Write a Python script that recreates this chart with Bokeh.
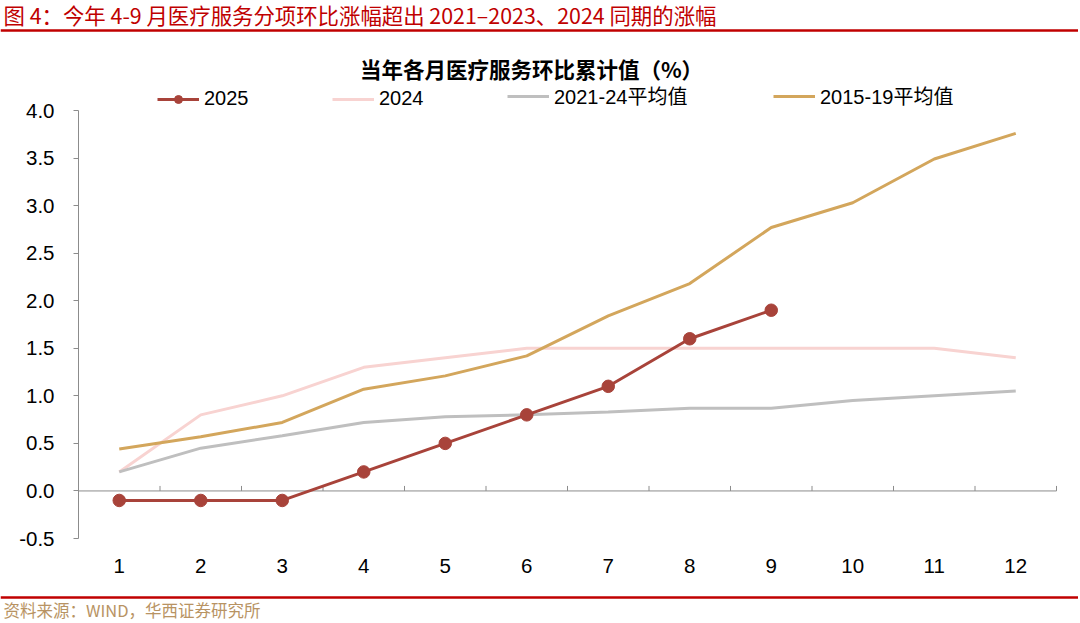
from bokeh.plotting import figure
from bokeh.models import (Label, Legend, LegendItem, FixedTicker, NumeralTickFormatter,
                          Range1d, LinearAxis, BoxAnnotation)
from bokeh.embed import file_html
from bokeh.resources import INLINE

# ---------------- data ----------------
months = [1, 2, 3, 4, 5, 6, 7, 8, 9, 10, 11, 12]
month_labels = ["1", "2", "3", "4", "5", "6", "7", "8", "9", "10", "11", "12"]
months_2025 = [1, 2, 3, 4, 5, 6, 7, 8, 9]
s2025 = [-0.1, -0.1, -0.1, 0.2, 0.5, 0.8, 1.1, 1.6, 1.9]
s2024 = [0.2, 0.8, 1.0, 1.3, 1.4, 1.5, 1.5, 1.5, 1.5, 1.5, 1.5, 1.4]
s2124 = [0.2, 0.45, 0.58, 0.72, 0.78, 0.8, 0.83, 0.87, 0.87, 0.95, 1.0, 1.05]
s1519 = [0.44, 0.57, 0.72, 1.07, 1.21, 1.42, 1.84, 2.18, 2.77, 3.03, 3.49, 3.76]
y_ticks = [-0.5, 0.0, 0.5, 1.0, 1.5, 2.0, 2.5, 3.0, 3.5, 4.0]
series_names = ["2025", "2024", "2021-24平均值", "2015-19平均值"]

header = "图 4：今年 4-9 月医疗服务分项环比涨幅超出 2021–2023、2024 同期的涨幅"
chart_title = "当年各月医疗服务环比累计值（%）"
source = "资料来源：WIND，华西证券研究所"

# ---------------- style ----------------
C2025 = "#A8433A"
C2024 = "#F8D3D1"
C2124 = "#BFBFBF"
C1519 = "#D3A65C"
RED = "#C00000"
GOLD_TXT = "#B89363"
AXIS = "#8C8C8C"
LATIN = "Liberation Sans, Noto Sans CJK SC"
CJK = "Noto Sans CJK SC"

W, H = 1078, 621
# where the plot area sits on the canvas (pixels from top-left)
PL, PR, PT, PB = 78, 1056, 110, 538

x_lo, x_hi = months[0] - 0.5, months[-1] + 0.5
y_lo, y_hi = y_ticks[0], y_ticks[-1]
xpp = (x_hi - x_lo) / (PR - PL)
ypp = (y_hi - y_lo) / (PB - PT)

p = figure(width=W, height=H, output_backend="svg", toolbar_location=None,
           x_range=Range1d(x_lo - PL * xpp, x_hi + (W - PR) * xpp),
           y_range=Range1d(y_lo - (H - PB) * ypp, y_hi + PT * ypp),
           x_axis_type=None, y_axis_type=None, min_border=0)
p.background_fill_color = "white"
p.border_fill_color = "white"
p.outline_line_color = None

# category axis labels under the plot area
xa = LinearAxis(fixed_location=y_lo, ticker=FixedTicker(ticks=months),
                major_label_overrides={m: l for m, l in zip(months, month_labels)},
                axis_line_color=None, major_tick_line_color=None, minor_tick_line_color=None,
                major_label_text_font=LATIN, major_label_text_font_size="20.5px",
                major_label_text_color="black", major_label_standoff=14)
p.add_layout(xa, "below")

ya = LinearAxis(fixed_location=x_lo, ticker=FixedTicker(ticks=y_ticks), bounds=(y_lo, y_hi),
                formatter=NumeralTickFormatter(format="0.0"),
                axis_line_color=AXIS, major_tick_line_color=AXIS, major_tick_in=0,
                major_tick_out=5, minor_tick_line_color=None,
                major_label_text_font=LATIN, major_label_text_font_size="20.5px",
                major_label_text_color="black", major_label_standoff=19)
p.add_layout(ya, "left")

# zero line acting as category axis, with ticks between categories
p.segment(x0=[x_lo], y0=[0], x1=[x_hi], y1=[0], line_color=AXIS, line_width=1)
bounds = [m + 0.5 for m in months]
p.segment(x0=bounds, y0=[0] * len(bounds), x1=bounds, y1=[5 * ypp] * len(bounds),
          line_color=AXIS, line_width=1)

r2024 = p.line(months, s2024, line_color=C2024, line_width=3)
r2124 = p.line(months, s2124, line_color=C2124, line_width=3)
r1519 = p.line(months, s1519, line_color=C1519, line_width=3)
r2025 = p.line(months_2025, s2025, line_color=C2025, line_width=3)
r2025c = p.scatter(months_2025, s2025, size=12.5, fill_color=C2025, line_color=C2025)

leg_x = [157, 332, 507, 773]
leg_r = [[r2025, r2025c], [r2024], [r2124], [r1519]]
for name, rs, lx in zip(series_names, leg_r, leg_x):
    lg = Legend(items=[LegendItem(label=name, renderers=rs)],
                location=(lx, H - 110), orientation="horizontal",
                padding=0, margin=0, border_line_color=None, background_fill_alpha=0,
                glyph_width=42, glyph_height=20, label_standoff=5,
                label_text_font=LATIN, label_text_font_size="20px",
                label_text_color="black", label_text_baseline="middle")
    p.add_layout(lg)


def lab(text, X, Y, size, color, align="left", bold=False):
    return Label(x=X, y=H - Y, x_units="screen", y_units="screen", text=text,
                 text_align=align, text_baseline="middle", text_font=CJK,
                 text_font_size=size, text_color=color,
                 text_font_style="bold" if bold else "normal")


p.add_layout(lab(chart_title, 531, 68, "21.5px", "black", align="center", bold=True))
p.add_layout(lab(header, 3, 14, "21.4px", RED))
p.add_layout(lab(source, 3, 609, "16.5px", GOLD_TXT))

for yy in (30, 597):
    p.add_layout(BoxAnnotation(left=0, right=W, top=H - yy + 1.2, bottom=H - yy - 1.2,
                               left_units="screen", right_units="screen",
                               top_units="screen", bottom_units="screen",
                               fill_color=RED, fill_alpha=1, line_color=None))

open("out.html", "w").write(file_html(p, INLINE))
